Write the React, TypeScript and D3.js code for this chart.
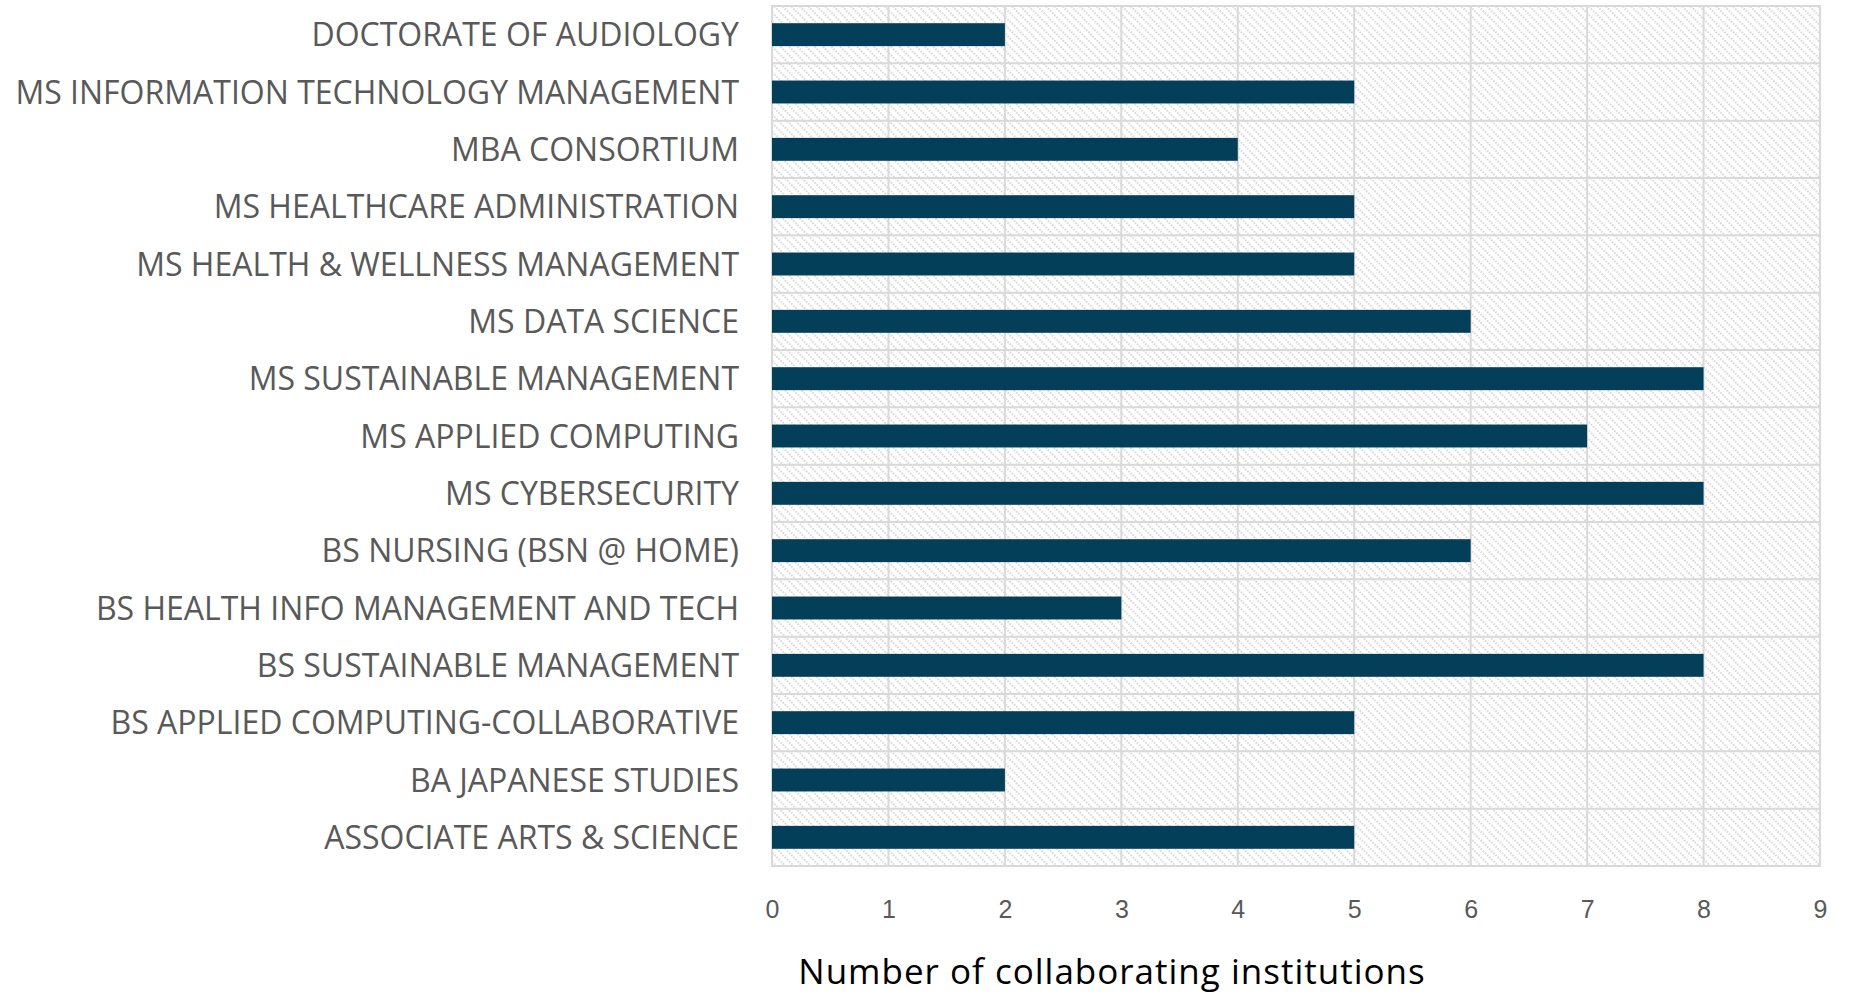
import React, { useRef, useEffect } from "react";
import * as d3 from "d3";

const programs = [
  "DOCTORATE OF AUDIOLOGY",
  "MS INFORMATION TECHNOLOGY MANAGEMENT",
  "MBA CONSORTIUM",
  "MS HEALTHCARE ADMINISTRATION",
  "MS HEALTH & WELLNESS MANAGEMENT",
  "MS DATA SCIENCE",
  "MS SUSTAINABLE MANAGEMENT",
  "MS APPLIED COMPUTING",
  "MS CYBERSECURITY",
  "BS NURSING (BSN @ HOME)",
  "BS HEALTH INFO MANAGEMENT AND TECH",
  "BS SUSTAINABLE MANAGEMENT",
  "BS APPLIED COMPUTING-COLLABORATIVE",
  "BA JAPANESE STUDIES",
  "ASSOCIATE ARTS & SCIENCE",
];
const institutions = [2, 5, 4, 5, 5, 6, 8, 7, 8, 6, 3, 8, 5, 2, 5];
const xTicks = [0, 1, 2, 3, 4, 5, 6, 7, 8, 9];
const axisTitle = "Number of collaborating institutions";

const width = 1853;
const height = 994;
const margin = { top: 6, right: 33, bottom: 128, left: 772 };

const App = () => {
  const svgRef = useRef<SVGSVGElement>(null);

  useEffect(() => {
    const svg = d3.select(svgRef.current);
    svg.selectAll("*").remove();

    const x = d3.scaleLinear()
      .domain([0, 9])
      .range([margin.left, width - margin.right]);

    const y = d3.scaleBand()
      .domain(programs)
      .range([margin.top, height - margin.bottom])
      .paddingInner(0.6)
      .paddingOuter(0.3);

    // row boundaries (without padding)
    const rows = d3.scaleBand()
      .domain(programs)
      .range([margin.top, height - margin.bottom]);

    // hatch pattern for the plot area
    const defs = svg.append("defs");
    const pat = defs.append("pattern")
      .attr("id", "hatch")
      .attr("patternUnits", "userSpaceOnUse")
      .attr("width", 6)
      .attr("height", 6)
      .attr("patternTransform", "rotate(45)");
    pat.append("rect").attr("width", 6).attr("height", 6).attr("fill", "#ffffff");
    pat.append("line")
      .attr("x1", 0).attr("y1", 3).attr("x2", 6).attr("y2", 3)
      .attr("stroke", "#d4d4d4")
      .attr("stroke-width", 2)
      .attr("stroke-dasharray", "1.5 1.5");

    const plotTop = margin.top;
    const plotBottom = height - margin.bottom;

    svg.append("rect")
      .attr("x", margin.left)
      .attr("y", plotTop)
      .attr("width", x(9) - x(0))
      .attr("height", plotBottom - plotTop)
      .attr("fill", "url(#hatch)");

    // horizontal grid (row borders)
    svg.append("g")
      .selectAll("line")
      .data(programs.slice(1))
      .join("line")
      .attr("x1", x(0))
      .attr("x2", x(9))
      .attr("y1", d => rows(d)!)
      .attr("y2", d => rows(d)!)
      .attr("stroke", "#d9d9d9")
      .attr("stroke-width", 2);

    // vertical grid
    svg.append("g")
      .selectAll("line")
      .data(xTicks)
      .join("line")
      .attr("x1", d => x(d))
      .attr("x2", d => x(d))
      .attr("y1", plotTop)
      .attr("y2", plotBottom)
      .attr("stroke", "#d9d9d9")
      .attr("stroke-width", 2);

    // plot border
    svg.append("rect")
      .attr("x", margin.left)
      .attr("y", plotTop)
      .attr("width", x(9) - x(0))
      .attr("height", plotBottom - plotTop)
      .attr("fill", "none")
      .attr("stroke", "#d9d9d9")
      .attr("stroke-width", 2);

    // bars
    svg.append("g")
      .selectAll("rect")
      .data(programs)
      .join("rect")
      .attr("x", x(0))
      .attr("y", d => y(d)!)
      .attr("width", (d, i) => x(institutions[i]) - x(0))
      .attr("height", y.bandwidth())
      .attr("fill", "#043f5a");

    // category labels
    svg.append("g")
      .selectAll("text")
      .data(programs)
      .join("text")
      .attr("x", 739)
      .attr("y", d => rows(d)! + rows.bandwidth() / 2)
      .attr("dy", "0.36em")
      .attr("text-anchor", "end")
      .style("font-family", "'Open Sans', sans-serif")
      .style("font-size", "32px")
      .attr("fill", "#595959")
      .text(d => d);

    // x axis
    const axis = svg.append("g")
      .attr("transform", `translate(0,${plotBottom})`)
      .call(d3.axisBottom(x).tickValues(xTicks).tickFormat(d3.format("d")).tickSize(0).tickPadding(34));
    axis.select(".domain").remove();
    axis.selectAll("text")
      .style("font-family", "'Liberation Sans', Arial, sans-serif")
      .style("font-size", "25px")
      .attr("fill", "#595959");

    svg.append("text")
      .attr("x", 1112)
      .attr("y", 984)
      .attr("text-anchor", "middle")
      .style("font-family", "'Open Sans', sans-serif")
      .style("font-size", "35px")
      .style("letter-spacing", "1px")
      .attr("fill", "#000000")
      .text(axisTitle);
  }, []);

  return (
    <div style={{ position: "absolute", left: 0, top: 0 }}>
      <svg ref={svgRef} width={width} height={height} style={{ display: "block" }}></svg>
    </div>
  );
};

export default App;
